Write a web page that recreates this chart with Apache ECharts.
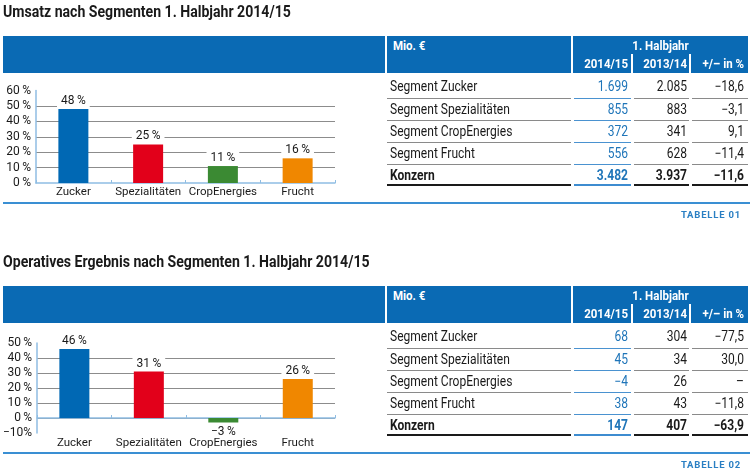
<!DOCTYPE html>
<html><head><meta charset="utf-8">
<script src="https://cdn.jsdelivr.net/npm/echarts@6/dist/echarts.min.js"></script>
<style>
html,body{margin:0;padding:0;background:#fff}
body{width:753px;height:476px;overflow:hidden;position:relative;font-family:"Roboto",sans-serif;color:#1a1a1a}
#chart{position:absolute;left:0;top:0;width:753px;height:476px}
.a{position:absolute;white-space:nowrap}
.t{font-weight:bold;font-size:16px;line-height:20px;transform:scaleX(0.88);transform-origin:left center}
.blue{background:#0a6ab4}
.h{color:#fff;font-weight:bold;font-size:12.5px;line-height:16px;transform:scaleX(0.92);transform-origin:left center}
.h.r{transform-origin:right center}
.h.m{transform-origin:center center;text-align:center}
.c{font-size:14px;line-height:18px;transform:scaleX(0.86);transform-origin:left center}
.r{text-align:right}
.c.r{transform-origin:right center}
.tab{color:#2a7fc3;font-weight:bold;font-size:9.5px;letter-spacing:0.8px;line-height:12px}
</style>
</head><body>
<div id="chart"></div>
<script>
const categories = ['Zucker', 'Spezialitäten', 'CropEnergies', 'Frucht'];
const umsatzShare = [48, 25, 11, 16];
const ergebnisShare = [46, 31, -3, 26];
const barColors = ['#0068b4', '#e2001a', '#3b8a33', '#f08700'];
const umsatzAxis = { min: 0, max: 60, interval: 10 };
const ergebnisAxis = { min: -10, max: 50, interval: 10 };

const titles = ['Umsatz nach Segmenten 1. Halbjahr 2014/15', 'Operatives Ergebnis nach Segmenten 1. Halbjahr 2014/15'];
const tableNames = ['TABELLE 01', 'TABELLE 02'];
const headerUnit = 'Mio. €';
const headerPeriod = '1. Halbjahr';
const headerCols = ['2014/15', '2013/14', '+/– in %'];
const rowLabels = ['Segment Zucker', 'Segment Spezialitäten', 'Segment CropEnergies', 'Segment Frucht', 'Konzern'];
const umsatzCur = ['1.699', '855', '372', '556', '3.482'];
const umsatzPrev = ['2.085', '883', '341', '628', '3.937'];
const umsatzChange = ['−18,6', '−3,1', '9,1', '−11,4', '−11,6'];
const ergebnisCur = ['68', '45', '−4', '38', '147'];
const ergebnisPrev = ['304', '34', '26', '43', '407'];
const ergebnisChange = ['−77,5', '30,0', '–', '−11,8', '−63,9'];

const FONT = 'Roboto, sans-serif';

function el(cls, x, y, w, h, text, style) {
  const d = document.createElement('div');
  d.className = 'a ' + (cls || '');
  d.style.left = x + 'px'; d.style.top = y + 'px';
  if (w != null) d.style.width = w + 'px';
  if (h != null) d.style.height = h + 'px';
  if (text != null) d.textContent = text;
  if (style) Object.assign(d.style, style);
  document.body.appendChild(d);
  return d;
}

function section(dy, title, tname, cur, prev, chg) {
  el('t', 3, dy + 2, null, null, title);
  el('blue', 3, dy + 36, 382, 37);
  el('blue', 387, dy + 36, 184, 37);
  el('blue', 573, dy + 36, 175, 37);
  el('', 631, dy + 54, 2, 19, null, { background: '#fff' });
  el('', 689, dy + 54, 2, 19, null, { background: '#fff' });
  el('h', 393, dy + 38, null, null, headerUnit);
  el('h m', 573, dy + 38, 175, null, headerPeriod);
  const rights = [628, 687, 744];
  headerCols.forEach((t, i) => el('h r', rights[i] - 60, dy + 56, 60, null, t));
  const centers = [86, 109, 131, 153, 175];
  const lines = [98, 120, 142, 164];
  const segs = [[387, 571], [574, 631], [634, 689], [692, 748]];
  rowLabels.forEach((lab, r) => {
    const bold = r === rowLabels.length - 1 ? { fontWeight: 'bold' } : {};
    const y = dy + centers[r] - 9;
    el('c', 390, y, null, null, lab, bold);
    el('c r', rights[0] - 60, y, 60, null, cur[r], Object.assign({ color: '#1f75b9' }, bold));
    el('c r', rights[1] - 60, y, 60, null, prev[r], bold);
    el('c r', rights[2] - 60, y, 60, null, chg[r], bold);
  });
  lines.forEach(ly => segs.forEach((s, i) => el('', s[0], dy + ly, s[1] - s[0], 1, null, { background: i === 1 ? '#4a92d0' : '#8a8a8a' })));
  segs.forEach((s, i) => el('', s[0], dy + 184, s[1] - s[0], 2, null, { background: i === 1 ? '#3d8cd0' : '#1a1a1a' }));
  el('', 3, dy + 202, 747, 2, null, { background: '#3a8fd3' });
  el('tab r', 640, dy + 209, 101, null, tname);
}
section(0, titles[0], tableNames[0], umsatzCur, umsatzPrev, umsatzChange);
section(250, titles[1], tableNames[1], ergebnisCur, ergebnisPrev, ergebnisChange);

const axisPct = v => (v < 0 ? '−' + Math.abs(v) + '%' : v + '\u2009%');
const barPct = v => (v < 0 ? '−' + Math.abs(v) : '' + v) + '\u2009%';
const axisBlue = '#8fbde3';

function xAx(g, margin) {
  return {
    gridIndex: g, type: 'category', data: categories,
    axisLine: { show: true, onZero: true, lineStyle: { color: axisBlue, width: 1.5 } },
    axisTick: { show: true, inside: true, length: 3, lineStyle: { color: axisBlue } },
    axisLabel: { color: '#1a1a1a', fontSize: 11.5, margin: margin, interval: 0, fontFamily: FONT }
  };
}
function yAx(g, ax) {
  return {
    gridIndex: g, type: 'value', min: ax.min, max: ax.max, interval: ax.interval,
    axisLine: { show: true, lineStyle: { color: axisBlue, width: 1.5 } },
    axisTick: { show: false },
    axisLabel: { color: '#1a1a1a', fontSize: 12, margin: 5, fontFamily: FONT, formatter: axisPct },
    splitLine: { show: true, showMinLine: false, showMaxLine: false, lineStyle: { color: '#8c8c8c', width: 1 } }
  };
}
function series(i, vals) {
  return {
    type: 'bar', xAxisIndex: i, yAxisIndex: i, barWidth: 30,
    data: vals.map((v, k) => ({
      value: v,
      itemStyle: { color: barColors[k] },
      label: { position: v < 0 ? 'bottom' : 'top' }
    })),
    label: {
      show: true, distance: 2, color: '#1a1a1a', fontSize: 12, fontFamily: FONT,
      backgroundColor: '#fff', padding: [1, 4, 0, 4], formatter: p => barPct(p.value)
    }
  };
}

const chart = echarts.init(document.getElementById('chart'), null, { renderer: 'canvas' });
chart.setOption({
  animation: false,
  backgroundColor: '#fff',
  grid: [
    { left: 36, top: 90.5, width: 299, height: 92.5 },
    { left: 36, top: 343, width: 299, height: 90 }
  ],
  xAxis: [xAx(0, 3), xAx(1, 4)],
  yAxis: [yAx(0, umsatzAxis), yAx(1, ergebnisAxis)],
  series: [series(0, umsatzShare), series(1, ergebnisShare)]
});
</script>
</body></html>
